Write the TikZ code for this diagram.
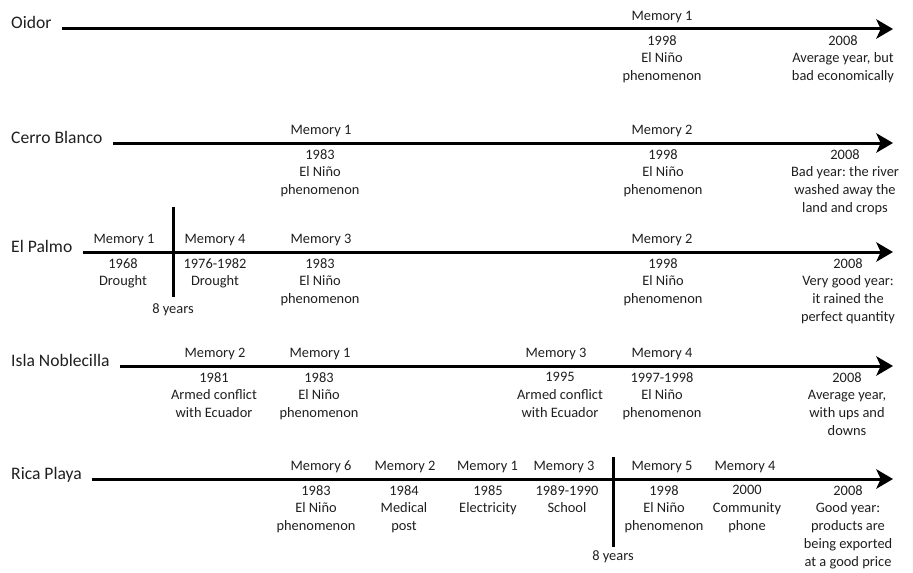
\documentclass[tikz,border=0pt]{standalone}
\usepackage{fontspec}
\setmainfont{Carlito}
\usetikzlibrary{arrows.meta}
\frenchspacing

\definecolor{inkgray}{gray}{0.12}

\tikzset{
  timeline/.style={line width=0.09cm, -{Stealth[length=0.5cm,width=0.58cm,inset=0.13cm]}},
  gapline/.style={line width=0.09cm},
  placelabel/.style={anchor=base west, inner sep=0pt, text=inkgray, font=\fontsize{15}{18}\selectfont},
  memorylabel/.style={anchor=base, inner sep=0pt, text=inkgray},
  eventtext/.style={anchor=north, inner sep=0pt, align=center, text=inkgray},
  gaptext/.style={anchor=north, inner sep=0pt, text=inkgray}
}

\begin{document}
\begin{tikzpicture}
                        \useasboundingbox (0,0) rectangle (27.390000,17.160000);
                        {\fontsize{12.3}{15.2}\selectfont

                        % Drawing line Oidor
                        \coordinate (oidorstart) at (1.860000,16.290000);
                        \coordinate (oidorend) at (26.790000,16.290000);
                        \draw [timeline] (oidorstart) -- (oidorend);%

                        % Drawing line Cerro Blanco
                        \coordinate (cerrostart) at (3.390000,12.870000);
                        \coordinate (cerroend) at (26.790000,12.870000);
                        \draw [timeline] (cerrostart) -- (cerroend);%

                        % Drawing line El Palmo
                        \coordinate (palmostart) at (2.490000,9.600000);
                        \coordinate (palmoend) at (26.790000,9.600000);
                        \draw [timeline] (palmostart) -- (palmoend);%

                        % Drawing line Isla Noblecilla
                        \coordinate (islastart) at (3.600000,6.180000);
                        \coordinate (islaend) at (26.790000,6.180000);
                        \draw [timeline] (islastart) -- (islaend);%

                        % Drawing line Rica Playa
                        \coordinate (ricastart) at (2.760000,2.790000);
                        \coordinate (ricaend) at (26.790000,2.790000);
                        \draw [timeline] (ricastart) -- (ricaend);%

                        % Drawing gap El Palmo
                        \coordinate (palmogaptop) at (5.190000,10.950000);
                        \coordinate (palmogapbot) at (5.190000,8.250000);
                        \draw [gapline] (palmogaptop) -- (palmogapbot);%

                        % Drawing gap Rica Playa
                        \coordinate (ricagaptop) at (18.390000,3.450000);
                        \coordinate (ricagapbot) at (18.390000,0.750000);
                        \draw [gapline] (ricagaptop) -- (ricagapbot);%

                        % Marking places
                        \draw (0.330000,16.290000) node [placelabel] (oidor) { Oidor };%
                        \draw (0.330000,12.870000) node [placelabel] (cerro) { Cerro Blanco };%
                        \draw (0.330000,9.600000) node [placelabel] (palmo) { El Palmo };%
                        \draw (0.330000,6.180000) node [placelabel] (isla) { Isla Noblecilla };%
                        \draw (0.330000,2.790000) node [placelabel] (rica) { Rica Playa };%

                        % Marking Oidor memories
                        \draw (19.860000,16.545000) node [memorylabel] (oidormem1) { Memory 1 };%
                        \draw (19.860000,16.110000) node [eventtext] (oidorev1) { 1998\\El Niño\\phenomenon };%
                        \draw (25.290000,16.110000) node [eventtext] (oidornow) { 2008\\Average year, but\\bad economically };%

                        % Marking Cerro Blanco memories
                        \draw (9.630000,13.125000) node [memorylabel] (cerromem1) { Memory 1 };%
                        \draw (9.600000,12.690000) node [eventtext] (cerroev1) { 1983\\El Niño\\phenomenon };%
                        \draw (19.860000,13.125000) node [memorylabel] (cerromem2) { Memory 2 };%
                        \draw (19.890000,12.690000) node [eventtext] (cerroev2) { 1998\\El Niño\\phenomenon };%
                        \draw (25.350000,12.690000) node [eventtext] (cerronow) { 2008\\Bad year: the river\\washed away the\\land and crops };%

                        % Marking El Palmo memories
                        \draw (3.720000,9.855000) node [memorylabel] (palmomem1) { Memory 1 };%
                        \draw (3.690000,9.420000) node [eventtext] (palmoev1) { 1968\\Drought };%
                        \draw (6.450000,9.855000) node [memorylabel] (palmomem4) { Memory 4 };%
                        \draw (6.450000,9.420000) node [eventtext] (palmoev4) { 1976-1982\\Drought };%
                        \draw (9.630000,9.855000) node [memorylabel] (palmomem3) { Memory 3 };%
                        \draw (9.600000,9.420000) node [eventtext] (palmoev3) { 1983\\El Niño\\phenomenon };%
                        \draw (19.860000,9.855000) node [memorylabel] (palmomem2) { Memory 2 };%
                        \draw (19.890000,9.420000) node [eventtext] (palmoev2) { 1998\\El Niño\\phenomenon };%
                        \draw (25.440000,9.420000) node [eventtext] (palmonow) { 2008\\Very good year:\\it rained the\\perfect quantity };%
                        \draw (palmogapbot) ++(0,-0.180000) node [gaptext] (palmogap) { 8 years };%

                        % Marking Isla Noblecilla memories
                        \draw (6.450000,6.435000) node [memorylabel] (islamem2) { Memory 2 };%
                        \draw (6.420000,6.000000) node [eventtext] (islaev2) { 1981\\Armed conflict\\with Ecuador };%
                        \draw (9.600000,6.435000) node [memorylabel] (islamem1) { Memory 1 };%
                        \draw (9.570000,6.000000) node [eventtext] (islaev1) { 1983\\El Niño\\phenomenon };%
                        \draw (16.680000,6.435000) node [memorylabel] (islamem3) { Memory 3 };%
                        \draw (16.800000,6.000000) node [eventtext] (islaev3) { 1995\\Armed conflict\\with Ecuador };%
                        \draw (19.860000,6.435000) node [memorylabel] (islamem4) { Memory 4 };%
                        \draw (19.860000,6.000000) node [eventtext] (islaev4) { 1997-1998\\El Niño\\phenomenon };%
                        \draw (25.410000,6.000000) node [eventtext] (islanow) { 2008\\Average year,\\with ups and\\downs };%

                        % Marking Rica Playa memories
                        \draw (9.630000,3.045000) node [memorylabel] (ricamem6) { Memory 6 };%
                        \draw (9.480000,2.610000) node [eventtext] (ricaev6) { 1983\\El Niño\\phenomenon };%
                        \draw (12.150000,3.045000) node [memorylabel] (ricamem2) { Memory 2 };%
                        \draw (12.120000,2.610000) node [eventtext] (ricaev2) { 1984\\Medical\\post };%
                        \draw (14.625000,3.045000) node [memorylabel] (ricamem1) { Memory 1 };%
                        \draw (14.640000,2.610000) node [eventtext] (ricaev1) { 1985\\Electricity };%
                        \draw (16.920000,3.045000) node [memorylabel] (ricamem3) { Memory 3 };%
                        \draw (17.010000,2.610000) node [eventtext] (ricaev3) { 1989-1990\\School };%
                        \draw (19.860000,3.045000) node [memorylabel] (ricamem5) { Memory 5 };%
                        \draw (19.920000,2.610000) node [eventtext] (ricaev5) { 1998\\El Niño\\phenomenon };%
                        \draw (22.350000,3.045000) node [memorylabel] (ricamem4) { Memory 4 };%
                        \draw (22.410000,2.610000) node [eventtext] (ricaev4) { 2000\\Community\\phone };%
                        \draw (25.440000,2.610000) node [eventtext] (ricanow) { 2008\\Good year:\\products are\\being exported\\at a good price };%
                        \draw (ricagapbot) ++(0,-0.090000) node [gaptext] (ricagap) { 8 years };%
                        }
                    \end{tikzpicture}
\end{document}
